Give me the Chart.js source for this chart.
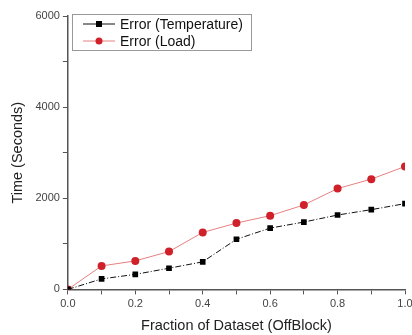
<!DOCTYPE html>
<html>
<head>
<meta charset="utf-8">
<script src="https://cdn.jsdelivr.net/npm/chart.js@4/dist/chart.umd.min.js"></script>
<style>
  html, body { margin: 0; padding: 0; background: #fff; overflow: hidden; }
  #wrap { width: 426px; height: 335px; }
</style>
</head>
<body>
<div id="wrap"><canvas id="grafico"></canvas></div>
<script>
const fracoes = [0, 0.1, 0.2, 0.3, 0.4, 0.5, 0.6, 0.7, 0.8, 0.9, 1.0];
const errTemperatura = [0, 230, 330, 465, 605, 1100, 1345, 1478, 1632, 1750, 1882];
const errCarga = [0, 515, 625, 831, 1250, 1456, 1618, 1853, 2213, 2420, 2698];

const fonte = "'Liberation Sans', Arial, sans-serif";

function pontos(valores) {
    return fracoes.map((x, i) => ({ x: x, y: valores[i] }));
}

// legenda desenhada dentro da area do grafico, como no original
const legendaInterna = {
    id: 'legendaInterna',
    afterDraw(chart) {
        const ctx = chart.ctx;
        const x0 = 72, y0 = 14, w = 179, h = 36;
        ctx.save();
        ctx.fillStyle = '#fff';
        ctx.fillRect(x0, y0, w, h);
        ctx.strokeStyle = '#999';
        ctx.lineWidth = 1;
        ctx.strokeRect(x0 + 0.5, y0 + 0.5, w, h);
        chart.data.datasets.forEach((ds, i) => {
            const yy = y0 + 10 + i * 17;
            ctx.strokeStyle = ds.borderColor;
            ctx.lineWidth = 1;
            ctx.setLineDash([]);
            ctx.beginPath();
            ctx.moveTo(83, yy);
            ctx.lineTo(115, yy);
            ctx.stroke();
            ctx.fillStyle = ds.pointBackgroundColor;
            if (ds.pointStyle === 'rect') {
                ctx.fillRect(96, yy - 3, 6, 6);
            } else {
                ctx.beginPath();
                ctx.arc(99, yy, 3.5, 0, Math.PI * 2);
                ctx.fill();
            }
            ctx.fillStyle = '#111';
            ctx.font = '14px ' + fonte;
            ctx.textBaseline = 'middle';
            ctx.fillText(ds.label, 120, yy + 1);
        });
        ctx.restore();
    }
};

const ctxGrafico = document.getElementById('grafico');

new Chart(ctxGrafico, {
    type: 'line',
    data: {
        datasets: [{
            label: 'Error (Temperature)',
            data: pontos(errTemperatura),
            borderColor: '#111',
            backgroundColor: '#000',
            pointBackgroundColor: '#000',
            pointBorderColor: '#000',
            pointStyle: 'rect',
            pointRadius: 4,
            pointBorderWidth: 0,
            borderWidth: 1,
            borderDash: [6, 2, 1, 2]
        }, {
            label: 'Error (Load)',
            data: pontos(errCarga),
            borderColor: '#e58080',
            backgroundColor: '#d0202a',
            pointBackgroundColor: '#d0202a',
            pointBorderColor: '#d0202a',
            pointStyle: 'circle',
            pointRadius: 4,
            pointBorderWidth: 0,
            borderWidth: 1
        }]
    },
    options: {
        responsive: true,
        maintainAspectRatio: false,
        animation: false,
        layout: { padding: { top: 16, right: 21, bottom: 0, left: 9 } },
        plugins: {
            legend: { display: false },
            tooltip: { enabled: false }
        },
        scales: {
            x: {
                type: 'linear',
                min: 0,
                max: 1,
                grid: {
                    drawOnChartArea: false,
                    drawTicks: true,
                    tickLength: 5,
                    color: '#555'
                },
                border: { color: '#555', width: 1.5 },
                ticks: {
                    stepSize: 0.1,
                    autoSkip: false,
                    maxRotation: 0,
                    color: '#444',
                    font: { family: fonte, size: 11 },
                    callback: (v) => {
                        const n = Math.round(v * 10);
                        return n % 2 === 0 ? (n / 10).toFixed(1) : '';
                    }
                },
                title: {
                    display: true,
                    text: 'Fraction of Dataset (OffBlock)',
                    color: '#222',
                    font: { family: fonte, size: 14.5 },
                    padding: { top: 4, bottom: 0 }
                }
            },
            y: {
                min: 0,
                max: 6000,
                grid: {
                    drawOnChartArea: false,
                    drawTicks: true,
                    tickLength: 5,
                    color: '#555'
                },
                border: { color: '#555', width: 1.5 },
                ticks: {
                    stepSize: 1000,
                    autoSkip: false,
                    color: '#444',
                    font: { family: fonte, size: 11 },
                    callback: (v) => (v % 2000 === 0 ? String(v) : '')
                },
                title: {
                    display: true,
                    text: 'Time (Seconds)',
                    color: '#222',
                    font: { family: fonte, size: 14.5 },
                    padding: { top: 0, bottom: 6 }
                }
            }
        }
    },
    plugins: [legendaInterna]
});
</script>
</body>
</html>
